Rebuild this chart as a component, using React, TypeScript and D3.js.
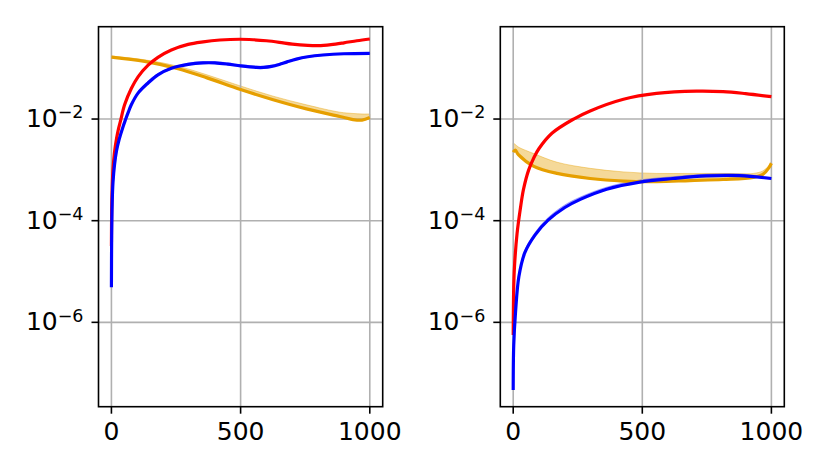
import React from "react";
import * as d3 from "d3";

const W = 830;
const H = 471;

const xTicks = [0, 500, 1000];
const yTickExps = [-2, -4, -6];

// Values stored as log10 of the plotted quantity.
// Left panel
const lRedX = [0, 1, 3, 6, 12, 20, 28, 36, 51, 77, 103, 142, 180, 232, 297, 355, 420, 497, 550, 600, 650, 700, 760, 800, 850, 900, 950, 1000];
const lRedY = [-4.5, -3.8, -3.35, -3.0, -2.65, -2.38, -2.18, -2.02, -1.72, -1.4, -1.17, -0.94, -0.785, -0.64, -0.53, -0.48, -0.445, -0.43, -0.44, -0.46, -0.49, -0.525, -0.55, -0.555, -0.535, -0.5, -0.46, -0.425];

const lBlueX = [0, 1, 3, 6, 12, 20, 30, 45, 54, 65, 77, 103, 142, 180, 232, 297, 355, 400, 450, 500, 561, 590, 620, 650, 680, 716, 760, 819, 900, 1000];
const lBlueY = [-5.31, -4.3, -3.65, -3.25, -2.9, -2.62, -2.4, -2.15, -2.02, -1.87, -1.72, -1.49, -1.29, -1.13, -1.0, -0.925, -0.895, -0.895, -0.92, -0.955, -0.985, -0.985, -0.965, -0.925, -0.875, -0.82, -0.775, -0.74, -0.715, -0.707];
const lBlueBandX = [45, 103, 180, 297, 400, 500, 590, 650, 716, 819, 900, 1000];
const lBlueBandLo = [-2.17, -1.5, -1.14, -0.935, -0.905, -0.965, -0.995, -0.935, -0.83, -0.748, -0.722, -0.714];
const lBlueBandHi = [-2.12, -1.47, -1.105, -0.9, -0.87, -0.93, -0.96, -0.905, -0.805, -0.725, -0.703, -0.7];

const lOrX = [0, 129, 258, 370, 500, 626, 755, 884, 935, 970, 1000];
const lOrY = [-0.78, -0.865, -1.01, -1.19, -1.42, -1.62, -1.8, -1.95, -2.01, -2.02, -1.97];
const lOrHi = [-0.76, -0.835, -0.96, -1.13, -1.35, -1.55, -1.72, -1.865, -1.89, -1.9, -1.9];
const lOrLo = [-0.79, -0.875, -1.02, -1.2, -1.43, -1.63, -1.81, -1.96, -2.02, -2.03, -1.98];

// Right panel
const rRedX = [0, 2, 5, 15, 28, 40, 60, 80, 100, 150, 234, 298, 427, 555, 710, 813, 900, 1000];
const rRedY = [-6.25, -5.3, -4.9, -4.25, -3.75, -3.38, -3.0, -2.76, -2.58, -2.28, -2.0, -1.84, -1.61, -1.495, -1.45, -1.46, -1.5, -1.56];

const rBlueX = [0, 2, 9, 22, 45, 85, 135, 200, 260, 362, 490, 619, 748, 876, 1000];
const rBlueY = [-7.33, -6.45, -5.8, -5.1, -4.63, -4.28, -3.99, -3.74, -3.58, -3.38, -3.24, -3.17, -3.12, -3.115, -3.17];
const rBlueBandX = [20, 45, 85, 135, 200, 260, 362, 490, 619, 748, 876, 1000];
const rBlueBandLo = [-5.17, -4.64, -4.29, -4.0, -3.75, -3.59, -3.39, -3.25, -3.18, -3.13, -3.125, -3.18];
const rBlueBandHi = [-5.1, -4.58, -4.23, -3.94, -3.69, -3.535, -3.34, -3.2, -3.135, -3.085, -3.08, -3.15];

const rOrX = [0, 8, 20, 80, 170, 298, 427, 555, 684, 813, 930, 967, 990, 1000];
const rOrY = [-2.65, -2.61, -2.7, -2.93, -3.07, -3.17, -3.22, -3.23, -3.21, -3.19, -3.15, -3.09, -2.96, -2.87];
const rOrHi = [-2.47, -2.5, -2.55, -2.68, -2.85, -2.97, -3.04, -3.07, -3.07, -3.07, -3.07, -3.02, -2.92, -2.84];
const rOrLo = [-2.66, -2.62, -2.71, -2.94, -3.08, -3.18, -3.23, -3.24, -3.22, -3.2, -3.16, -3.1, -2.97, -2.88];

const RED = "#ff0000";
const BLUE = "#0000ff";
const ORANGE = "#e69f00";

type Band = { x: number[]; lo: number[]; hi: number[]; color: string; opacity: number };
type Line = { x: number[]; y: number[]; color: string };

const TOP = 26.7;
const BOTTOM = 406.7;

const yScale = d3
  .scaleLog()
  .domain([Math.pow(10, -7.66), Math.pow(10, -0.183)])
  .range([BOTTOM, TOP]);

const CURVE = d3.curveCatmullRom.alpha(0.5);

function Panel({ left, right, bands, lines }: { left: number; right: number; bands: Band[]; lines: Line[] }) {
  const x = d3.scaleLinear().domain([-50, 1050]).range([left, right]);
  const clipId = `clip${Math.round(left)}`;
  const line = (l: Line) =>
    d3
      .line<number>()
      .x((_, i) => x(l.x[i]))
      .y((v) => yScale(Math.pow(10, v)))
      .curve(CURVE)(l.y) || "";
  const area = (b: Band) =>
    d3
      .area<number>()
      .x((_, i) => x(b.x[i]))
      .y0((_, i) => yScale(Math.pow(10, b.lo[i])))
      .y1((_, i) => yScale(Math.pow(10, b.hi[i])))
      .curve(CURVE)(b.x) || "";
  return (
    <g>
      <defs>
        <clipPath id={clipId}>
          <rect x={left} y={TOP} width={right - left} height={BOTTOM - TOP} />
        </clipPath>
      </defs>
      <g clipPath={`url(#${clipId})`}>
        {bands.map((b, i) => (
          <path key={"b" + i} d={area(b)} fill={b.color} fillOpacity={b.opacity} stroke={b.color} strokeOpacity={b.opacity} strokeWidth={1} />
        ))}
        {xTicks.map((t) => (
          <line key={"gx" + t} x1={x(t)} x2={x(t)} y1={TOP} y2={BOTTOM} stroke="#b0b0b0" strokeWidth={1.6} />
        ))}
        {yTickExps.map((e) => (
          <line key={"gy" + e} x1={left} x2={right} y1={yScale(Math.pow(10, e))} y2={yScale(Math.pow(10, e))} stroke="#b0b0b0" strokeWidth={1.6} />
        ))}
        {lines.map((l, i) => (
          <path key={"l" + i} d={line(l)} fill="none" stroke={l.color} strokeWidth={3.2} strokeLinejoin="round" strokeLinecap="butt" />
        ))}
      </g>
      <rect x={left} y={TOP} width={right - left} height={BOTTOM - TOP} fill="none" stroke="#000" strokeWidth={1.6} />
      {xTicks.map((t) => (
        <g key={"tx" + t}>
          <line x1={x(t)} x2={x(t)} y1={BOTTOM} y2={BOTTOM + 7} stroke="#000" strokeWidth={1.6} />
          <text x={x(t)} y={439.5} textAnchor="middle" fontSize={25} fontFamily="DejaVu Sans" fill="#000">
            {t}
          </text>
        </g>
      ))}
      {yTickExps.map((e) => {
        const yy = yScale(Math.pow(10, e));
        return (
          <g key={"ty" + e}>
            <line x1={left - 7} x2={left} y1={yy} y2={yy} stroke="#000" strokeWidth={1.6} />
            <text x={left - 15} y={yy + 8} textAnchor="end" fontSize={25} fontFamily="DejaVu Sans" fill="#000">
              <tspan>10</tspan>
              <tspan fontSize={17.5} dy={-8.8}>{"\u2212" + Math.abs(e)}</tspan>
            </text>
          </g>
        );
      })}
    </g>
  );
}

export default function App() {
  const leftBands: Band[] = [
    { x: lOrX, lo: lOrLo, hi: lOrHi, color: ORANGE, opacity: 0.4 },
    { x: lBlueBandX, lo: lBlueBandLo, hi: lBlueBandHi, color: BLUE, opacity: 0.3 },
  ];
  const leftLines: Line[] = [
    { x: lOrX, y: lOrY, color: ORANGE },
    { x: lRedX, y: lRedY, color: RED },
    { x: lBlueX, y: lBlueY, color: BLUE },
  ];
  const rightBands: Band[] = [
    { x: rOrX, lo: rOrLo, hi: rOrHi, color: ORANGE, opacity: 0.4 },
    { x: rBlueBandX, lo: rBlueBandLo, hi: rBlueBandHi, color: BLUE, opacity: 0.3 },
  ];
  const rightLines: Line[] = [
    { x: rOrX, y: rOrY, color: ORANGE },
    { x: rRedX, y: rRedY, color: RED },
    { x: rBlueX, y: rBlueY, color: BLUE },
  ];
  return (
    <svg
      width={W}
      height={H}
      viewBox={`0 0 ${W} ${H}`}
      style={{ position: "absolute", left: 0, top: 0, background: "#fff" }}
    >
      <rect x={0} y={0} width={W} height={H} fill="#fff" />
      <Panel left={98.5} right={382.7} bands={leftBands} lines={leftLines} />
      <Panel left={500.3} right={784.3} bands={rightBands} lines={rightLines} />
    </svg>
  );
}
